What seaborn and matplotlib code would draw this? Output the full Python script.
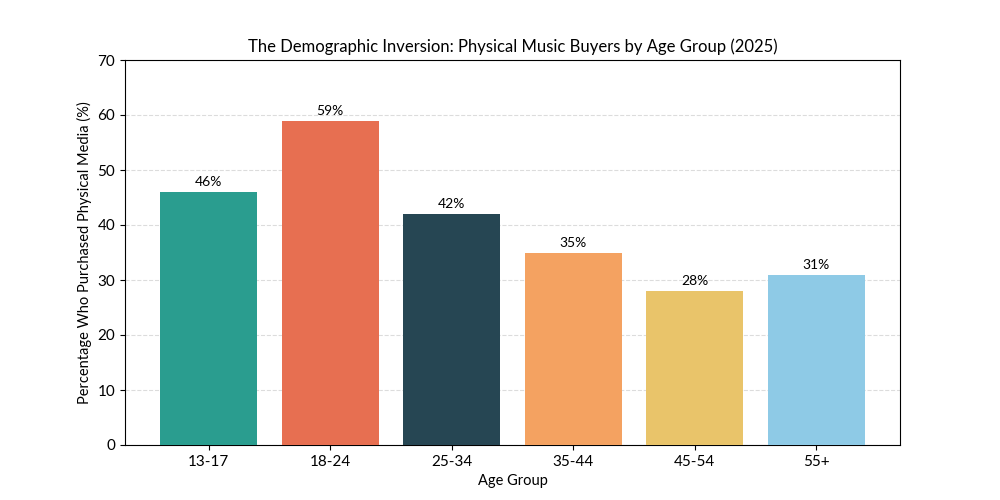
import matplotlib
matplotlib.use("Agg")
import matplotlib.pyplot as plt
import seaborn as sns
import pandas as pd

age_groups = ["13-17", "18-24", "25-34", "35-44", "45-54", "55+"]
percentages = [46, 59, 42, 35, 28, 31]
bar_colors = ["#2a9d8f", "#e76f51", "#264653", "#f4a261", "#e9c46a", "#8ecae6"]

df = pd.DataFrame({"Age Group": age_groups, "Percentage": percentages})

sns.set_style("white")
plt.rcParams["font.family"] = ["Lato", "DejaVu Sans"]
plt.rcParams["text.color"] = "black"
plt.rcParams["axes.labelcolor"] = "black"
plt.rcParams["xtick.color"] = "black"
plt.rcParams["ytick.color"] = "black"

fig, ax = plt.subplots(figsize=(10, 5), dpi=100)
sns.barplot(data=df, x="Age Group", y="Percentage", hue="Age Group",
            palette=bar_colors, width=0.8, saturation=1, legend=False,
            linewidth=0, ax=ax, zorder=3)

for i, v in enumerate(percentages):
    ax.text(i, v + 0.7, f"{v}%", ha="center", va="bottom", fontsize=10, color="black")

# same x margins as a plain matplotlib bar chart (5% of the bar span)
pad = 0.05 * (len(age_groups) - 1 + 0.8)
ax.set_xlim(-0.4 - pad, len(age_groups) - 1 + 0.4 + pad)
ax.set_ylim(0, 70)
ax.yaxis.grid(True, linestyle="--", alpha=0.5, color="#bbbbbb", zorder=0)
ax.set_axisbelow(True)
for s in ax.spines.values():
    s.set_color("black")
    s.set_linewidth(0.8)
ax.tick_params(axis="both", which="both", length=3.5, width=0.8, labelsize=11, left=True, bottom=True)
ax.set_title("The Demographic Inversion: Physical Music Buyers by Age Group (2025)", fontsize=12)
ax.set_xlabel("Age Group", fontsize=10.5)
ax.set_ylabel("Percentage Who Purchased Physical Media (%)", fontsize=10.5)

fig.savefig("out.png", dpi=100)
